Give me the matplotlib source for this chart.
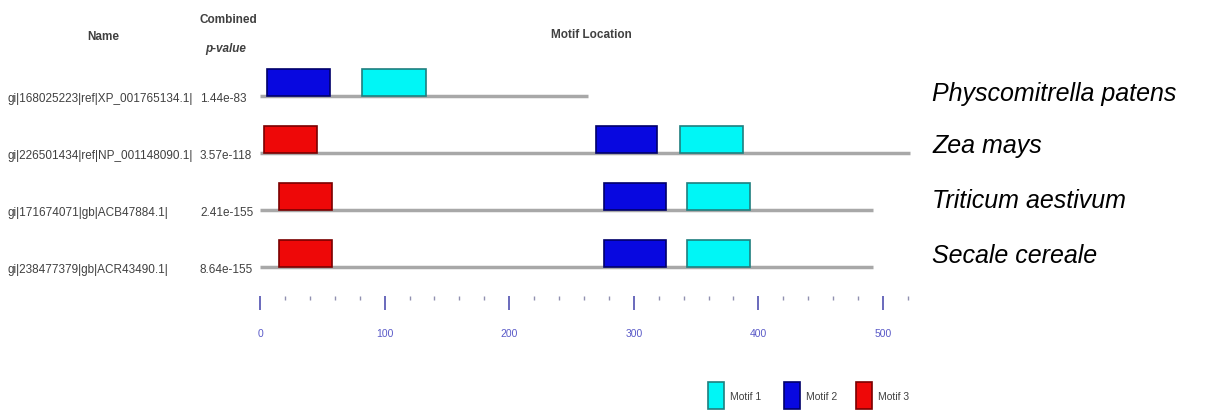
import matplotlib
matplotlib.use("Agg")
import matplotlib.pyplot as plt
import matplotlib.transforms as mtransforms
from matplotlib.patches import Rectangle

# sequence data
names = ["gi|168025223|ref|XP_001765134.1|", "gi|226501434|ref|NP_001148090.1|",
         "gi|171674071|gb|ACB47884.1|", "gi|238477379|gb|ACR43490.1|"]
pvalues = ["1.44e-83", "3.57e-118", "2.41e-155", "8.64e-155"]
species = ["Physcomitrella patens", "Zea mays", "Triticum aestivum", "Secale cereale"]
seq_lengths = [263, 522, 492, 492]

# motif hits per sequence: (motif id, start, end)
motif_hits = [
    [(2, 6, 56), (1, 82, 133)],
    [(3, 3, 46), (2, 270, 319), (1, 337, 388)],
    [(3, 15, 58), (2, 276, 326), (1, 343, 393)],
    [(3, 15, 58), (2, 276, 326), (1, 343, 393)],
]
motif_labels = ["Motif 1", "Motif 2", "Motif 3"]
major_ticks = [0, 100, 200, 300, 400, 500]

face = {1: "#00f6f6", 2: "#0808e0", 3: "#ee0808"}
edge = {1: "#1f7f7f", 2: "#00006a", 3: "#7a0000"}

W, H = 1217, 414
fig = plt.figure(figsize=(W / 100, H / 100), dpi=100)

font = "Liberation Sans"
grey = "#404040"

# axes: x = residue position, y = row index
x0_px, px_per_unit = 260, 1.246
xmin, xmax = -16, 530
top_px, bot_px = 60, 297
ax = fig.add_axes([(x0_px + xmin * px_per_unit) / W, 1 - bot_px / H,
                   (xmax - xmin) * px_per_unit / W, (bot_px - top_px) / H])
ax.set_xlim(xmin, xmax)
row_px, row_gap = 97, 57
ax.set_ylim((bot_px - row_px) / row_gap, (top_px - row_px) / row_gap)

box_h = 0.47
for i, (L, hits) in enumerate(zip(seq_lengths, motif_hits)):
    ax.hlines(i, 0, L, color="#a8a8a8", lw=2.5, zorder=1)
    for m, s, e in hits:
        ax.add_patch(Rectangle((s, i - box_h), e - s, box_h, facecolor=face[m],
                               edgecolor=edge[m], lw=1.2, zorder=2))

for sp in ax.spines.values():
    sp.set_visible(False)
ax.set_yticks([])
ax.set_xticks(major_ticks)
ax.set_xticks(range(20, 521, 20), minor=True)
ax.tick_params(axis="x", which="major", length=10, width=1.2, color="#5050b0",
               labelcolor="#5a5ac8", labelsize=7.5, pad=13)
ax.tick_params(axis="x", which="minor", length=3, width=1, color="#9090b0")
for lab in ax.get_xticklabels():
    lab.set_family(font)

# left column text, rows tied to data y
tr = mtransforms.blended_transform_factory(fig.transFigure, ax.transData)
species_dy = [-0.06, -0.135, -0.17, -0.21]
for i in range(len(names)):
    fig.text(8 / W, i + 0.03, names[i], transform=tr, ha="left", va="center",
             fontsize=8.5, color=grey, family=font)
    fig.text(200 / W, i + 0.03, pvalues[i], transform=tr, ha="left", va="center",
             fontsize=8.5, color=grey, family=font)
    fig.text(932 / W, i + species_dy[i], species[i], transform=tr, ha="left",
             va="center", fontsize=18, style="italic", family=font)

# headers
fig.text(103 / W, 1 - 37 / H, "Name", ha="center", va="center", fontsize=8.5,
         fontweight="bold", color=grey, family=font)
fig.text(228 / W, 1 - 20 / H, "Combined", ha="center", va="center", fontsize=8.5,
         fontweight="bold", color=grey, family=font)
fig.text(226 / W, 1 - 49 / H, "p-value", ha="center", va="center", fontsize=8.5,
         fontweight="bold", style="italic", color=grey, family=font)
fig.text(591 / W, 1 - 35 / H, "Motif Location", ha="center", va="center",
         fontsize=8.5, fontweight="bold", color=grey, family=font)

# legend
leg_x = [708, 784, 856]
for k, lab in enumerate(motif_labels):
    m = k + 1
    fig.patches.append(Rectangle((leg_x[k] / W, 1 - 410 / H), 16 / W, 27 / H,
                                 transform=fig.transFigure, facecolor=face[m],
                                 edgecolor=edge[m], lw=1.2))
    fig.text((leg_x[k] + 22) / W, 1 - 397 / H, lab, ha="left", va="center",
             fontsize=7.5, color=grey, family=font)

fig.savefig("out.png", dpi=100, facecolor="white")
